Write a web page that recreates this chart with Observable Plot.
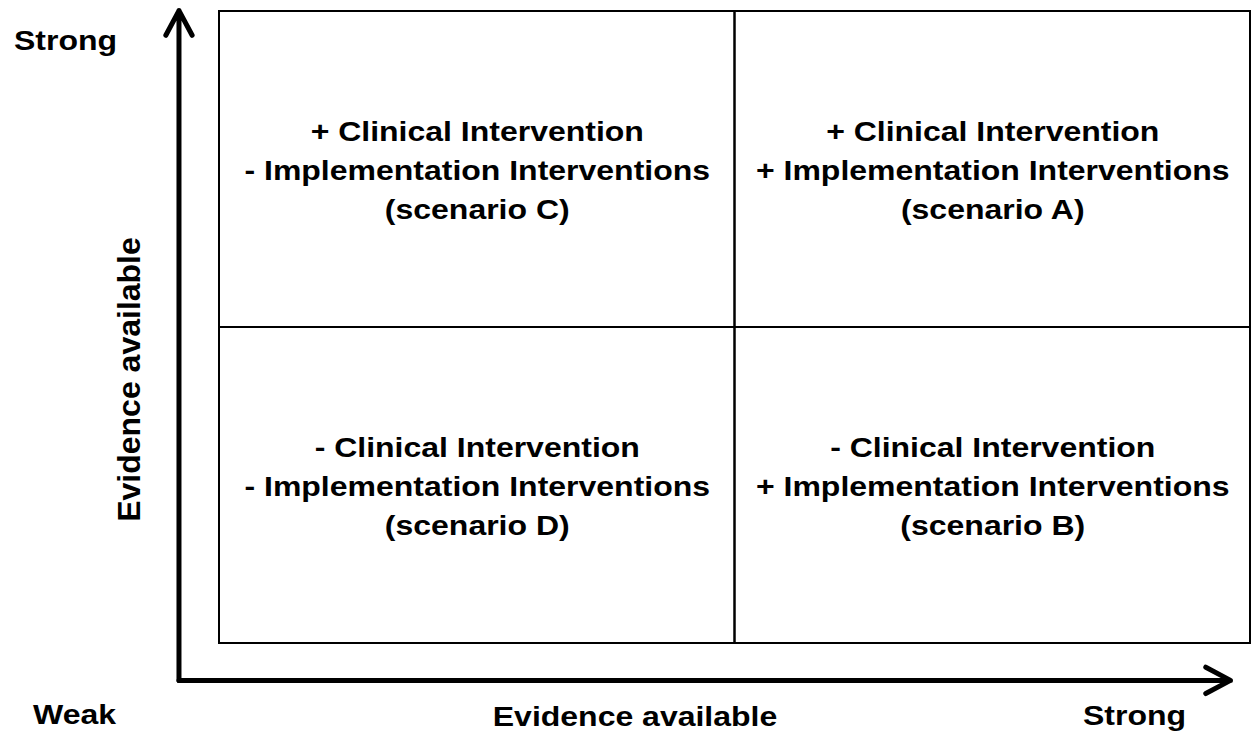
<!DOCTYPE html>
<html>
<head>
<meta charset="utf-8">
<script src="https://cdn.jsdelivr.net/npm/d3@7"></script>
<script src="https://cdn.jsdelivr.net/npm/@observablehq/plot@0.6"></script>
<style>
  html, body { margin: 0; padding: 0; background: #fff; }
  #chart svg { display: block; }
</style>
</head>
<body>
<div id="chart"></div>
<script>
// ---- data ----
const scenarios      = ["A", "B", "C", "D"];
const clinicalSign   = ["+", "-", "+", "-"];   // clinical evidence (vertical axis)
const implementSign  = ["+", "+", "-", "-"];   // implementation evidence (horizontal axis)
const axisTitle      = "Evidence available";
const axisLevels     = ["Weak", "Strong"];
const cellDomain     = [0, 2];

const cells = scenarios.map((s, i) => ({
  scenario: s,
  col: implementSign[i] === "+" ? 1 : 0,
  row: clinicalSign[i] === "+" ? 1 : 0,
  label: `${clinicalSign[i]} Clinical Intervention\n${implementSign[i]} Implementation Interventions\n(scenario ${s})`
}));

const font = "'Liberation Sans', Arial, Helvetica, sans-serif";
const FS = 28;         // horizontal text size
const STRETCH = 1.143; // horizontal glyph stretch seen in the reference

const chart = Plot.plot({
  width: 1257,
  height: 733,
  marginLeft: 219,
  marginRight: 7,
  marginTop: 11,
  marginBottom: 90,
  style: { fontFamily: font, background: "#fff", overflow: "visible" },
  x: { domain: cellDomain, axis: null },
  y: { domain: cellDomain, axis: null },
  marks: [
    // quadrant cells
    Plot.rect(cells, {
      x1: d => d.col, x2: d => d.col + 1,
      y1: d => d.row, y2: d => d.row + 1,
      fill: "none", stroke: "#000", strokeWidth: 2
    }),
    Plot.text(cells, {
      x: d => d.col + 0.5, y: d => d.row + 0.5,
      text: "label", fontSize: FS, fontWeight: "bold", dy: -2,
      lineHeight: 1.39, fill: "#000", textAnchor: "middle"
    }),
    // axes arrows
    Plot.arrow([0], {
      x1: -0.0786, y1: -0.1167, x2: 1.9612, y2: -0.1167,
      stroke: "#000", strokeWidth: 5, headLength: 8.4, headAngle: 56, clip: false
    }),
    Plot.arrow([0], {
      x1: -0.0786, y1: -0.1167, x2: -0.0786, y2: 2.003,
      stroke: "#000", strokeWidth: 5, headLength: 8.4, headAngle: 56, clip: false
    }),
    // axis labels (baseline-anchored)
    Plot.text([axisLevels[1]], {
      frameAnchor: "top-left", dx: -154, dy: 38, lineAnchor: "bottom",
      fontSize: FS, fontWeight: "bold", textAnchor: "middle"
    }),
    Plot.text([axisLevels[0]], {
      frameAnchor: "bottom-left", dx: -145, dy: 80, lineAnchor: "bottom",
      fontSize: FS, fontWeight: "bold", textAnchor: "middle"
    }),
    Plot.text([axisTitle], {
      frameAnchor: "bottom", dx: -100, dy: 82, lineAnchor: "bottom",
      fontSize: FS, fontWeight: "bold", textAnchor: "middle"
    }),
    Plot.text([axisLevels[1]], {
      frameAnchor: "bottom-right", dx: -116, dy: 81, lineAnchor: "bottom",
      fontSize: FS, fontWeight: "bold", textAnchor: "middle"
    }),
    Plot.text([axisTitle], {
      frameAnchor: "left", dx: -80, dy: 52, rotate: -90, lineAnchor: "bottom",
      fontSize: 32, fontWeight: "bold", textAnchor: "middle"
    })
  ]
});

// widen horizontal glyphs about their anchor point, as in the reference
d3.select(chart).selectAll("text").each(function () {
  const t = this.getAttribute("transform");
  if (t && !t.includes("rotate")) this.setAttribute("transform", `${t} scale(${STRETCH},1)`);
});

document.getElementById("chart").appendChild(chart);
</script>
</body>
</html>
